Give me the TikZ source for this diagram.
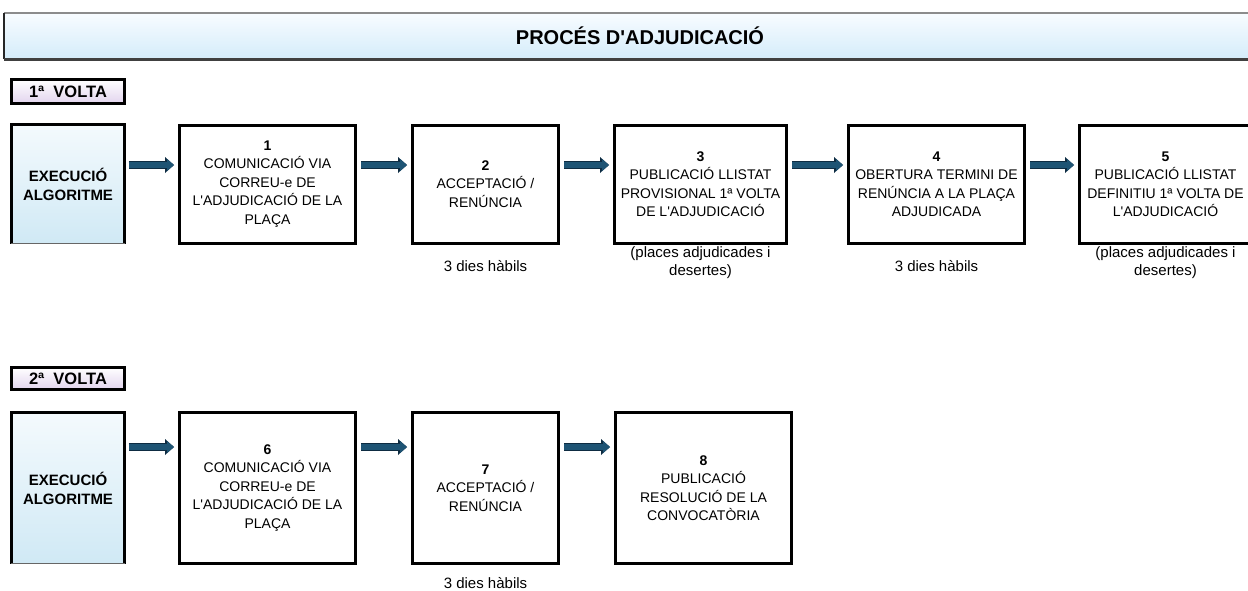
\documentclass[tikz,border=0pt]{standalone}
\usepackage{fontspec}
\setmainfont{Liberation Sans}[Ligatures=TeXOff]
\usetikzlibrary{arrows.meta}
\definecolor{arrowblue}{RGB}{30,84,116}
\definecolor{arrowedge}{RGB}{14,44,66}
\definecolor{titletop}{RGB}{248,252,255}
\definecolor{titlebot}{RGB}{212,236,250}
\definecolor{exectop}{RGB}{244,250,253}
\definecolor{execbot}{RGB}{208,233,245}
\definecolor{lavbot}{RGB}{226,212,238}
\begin{document}
\begin{tikzpicture}[x=1pt,y=1pt,
  stepbox/.style={draw=black, line width=3pt, align=center, inner sep=2pt,
    font=\fontsize{14}{18.5}\selectfont},
  rowone/.style={minimum height=118pt},
  rowtwo/.style={minimum height=151pt},
  execbox/.style={top color=exectop, bottom color=execbot, minimum width=113pt,
    align=center, font=\bfseries\fontsize{15}{19}\selectfont},
  voltabox/.style={draw=black, line width=3pt, top color=white, bottom color=lavbot,
    minimum width=113pt, inner sep=0pt, font=\bfseries\fontsize{16.5}{18}\selectfont},
  sub/.style={align=center, inner sep=0pt, font=\fontsize{15}{18}\selectfont},
  arr/.style={line width=5.5pt, draw=arrowblue,
    -{Triangle[length=7pt,width=12pt,line width=0pt]},
    shorten <=4pt, shorten >=4pt,
    preaction={draw=arrowedge, line width=8pt,
      -{Triangle[length=9pt,width=16pt,line width=0pt]}}},
  edgeline/.style={draw=black, line width=3pt}
]
\useasboundingbox (0,0) rectangle (1248,-590);
\clip (0,0) rectangle (1248,-590);

% title
\node[top color=titletop, bottom color=titlebot, minimum width=1272pt, minimum height=46pt,
  font=\bfseries\fontsize{20}{22}\selectfont] (title) at (640,-36) {PROCÉS D'ADJUDICACIÓ};
\draw[line width=1.5pt, black!45] (title.north west) -- (title.north east);
\draw[line width=2.5pt, black!85] (title.north west) -- (title.south west);
\draw[line width=3pt, black!75] (title.south west) -- (title.south east);

% row coordinates
\coordinate (r1) at (0,-165);
\coordinate (r2) at (0,-447);

% ---- 1a volta
\node[voltabox, minimum height=24pt] (v1) at (68,-91.5) {1ª~~VOLTA};
\node[execbox, minimum height=119pt] (e1) at (68,-184) {EXECUCIÓ\\ALGORITME};
\draw[edgeline] (e1.south west) -- (e1.north west) -- (e1.north east) -- (e1.south east);
\draw[line width=1.5pt, black!60] (e1.south west) -- (e1.south east);

\node[stepbox, rowone, minimum width=176pt] (b1) at (267.5,-184)
  {{\bfseries 1}\\COMUNICACIÓ VIA\\CORREU-e DE\\L'ADJUDICACIÓ DE LA\\PLAÇA};
\node[stepbox, rowone, minimum width=146pt] (b2) at (485.5,-184)
  {{\bfseries 2}\\ACCEPTACIÓ /\\RENÚNCIA};
\node[stepbox, rowone, minimum width=172pt] (b3) at (700.5,-184)
  {{\bfseries 3}\\PUBLICACIÓ LLISTAT\\PROVISIONAL 1ª VOLTA\\DE L'ADJUDICACIÓ};
\node[stepbox, rowone, minimum width=176pt] (b4) at (936.5,-184)
  {{\bfseries 4}\\OBERTURA TERMINI DE\\RENÚNCIA A LA PLAÇA\\ADJUDICADA};
\node[stepbox, rowone, minimum width=172pt] (b5) at (1165.5,-184)
  {{\bfseries 5}\\PUBLICACIÓ LLISTAT\\DEFINITIU 1ª VOLTA DE\\L'ADJUDICACIÓ};

\node[sub, yshift=-22pt] (s2) at (b2.south) {3 dies hàbils};
\node[sub, yshift=-18pt] (s3) at (b3.south) {(places adjudicades i\\desertes)};
\node[sub, yshift=-22pt] (s4) at (b4.south) {3 dies hàbils};
\node[sub, yshift=-18pt] (s5) at (b5.south) {(places adjudicades i\\desertes)};

\draw[arr] (e1.east |- r1) -- (b1.west |- r1);
\draw[arr] (b1.east |- r1) -- (b2.west |- r1);
\draw[arr] (b2.east |- r1) -- (b3.west |- r1);
\draw[arr] (b3.east |- r1) -- (b4.west |- r1);
\draw[arr] (b4.east |- r1) -- (b5.west |- r1);

% ---- 2a volta
\node[voltabox, minimum height=22pt] (v2) at (68,-378.5) {2ª~~VOLTA};
\node[execbox, minimum height=151pt] (e2) at (68,-488) {EXECUCIÓ\\ALGORITME};
\draw[edgeline] (e2.south west) -- (e2.north west) -- (e2.north east) -- (e2.south east);
\draw[line width=1.5pt, black!60] (e2.south west) -- (e2.south east);

\node[stepbox, rowtwo, minimum width=176pt] (b6) at (267.5,-488)
  {{\bfseries 6}\\COMUNICACIÓ VIA\\CORREU-e DE\\L'ADJUDICACIÓ DE LA\\PLAÇA};
\node[stepbox, rowtwo, minimum width=146pt] (b7) at (485.5,-488)
  {{\bfseries 7}\\ACCEPTACIÓ /\\RENÚNCIA};
\node[stepbox, rowtwo, minimum width=176pt] (b8) at (703.5,-488)
  {{\bfseries 8}\\PUBLICACIÓ\\RESOLUCIÓ DE LA\\CONVOCATÒRIA};

\node[sub, yshift=-18.5pt] (s7) at (b7.south) {3 dies hàbils};

\draw[arr] (e2.east |- r2) -- (b6.west |- r2);
\draw[arr] (b6.east |- r2) -- (b7.west |- r2);
\draw[arr] (b7.east |- r2) -- (b8.west |- r2);
\end{tikzpicture}
\end{document}
